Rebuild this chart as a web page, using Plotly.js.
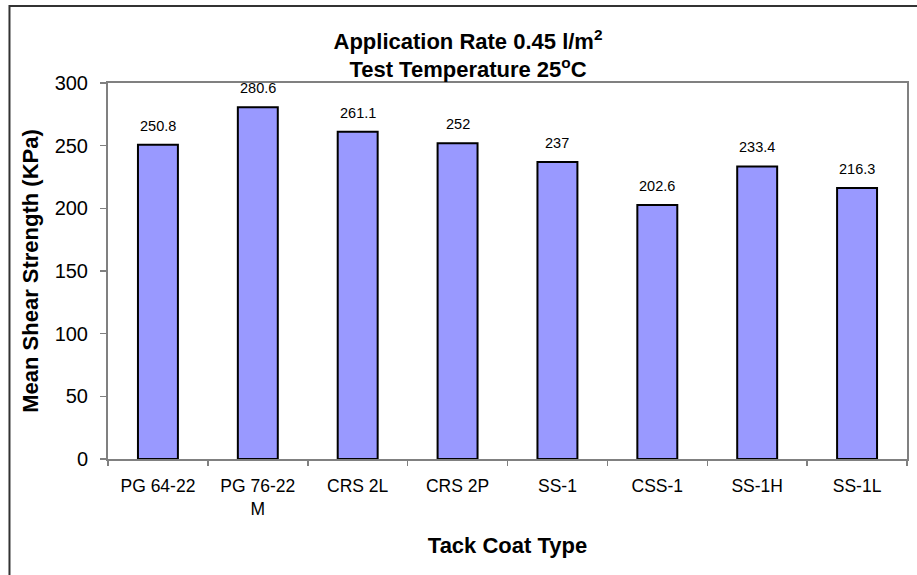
<!DOCTYPE html>
<html>
<head>
<meta charset="utf-8">
<script src="https://cdn.plot.ly/plotly-3.0.1.min.js"></script>
<style>
  html, body { margin: 0; padding: 0; background: #ffffff; }
  #chart { width: 917px; height: 575px; }
</style>
</head>
<body>
<div id="chart"></div>
<script>
// ---- data ----
const categories = ["PG 64-22", "PG 76-22<br>M", "CRS 2L", "CRS 2P", "SS-1", "CSS-1", "SS-1H", "SS-1L"];
const shearStrength = [250.8, 280.6, 261.1, 252, 237, 202.6, 233.4, 216.3];
const valueLabels = ["250.8", "280.6", "261.1", "252", "237", "202.6", "233.4", "216.3"];
const yTickValues = [0, 50, 100, 150, 200, 250, 300];
const chartTitle = "Application Rate 0.45 l/m<sup>2</sup><br>Test Temperature 25<sup>o</sup>C";
const xTitle = "Tack Coat Type";
const yTitle = "Mean Shear Strength (KPa)";

const FONT = "Arial, 'Liberation Sans', sans-serif";

const trace = {
  type: "bar",
  x: categories,
  y: shearStrength,
  marker: { color: "#9999FF", line: { color: "#000000", width: 2 } },
  hoverinfo: "x+y",
  cliponaxis: false
};

const annotations = categories.map((c, i) => ({
  x: c,
  y: shearStrength[i],
  xref: "x",
  yref: "y",
  text: valueLabels[i],
  showarrow: false,
  yanchor: "bottom",
  yshift: 9,
  font: { family: FONT, size: 14.5, color: "#000000" }
}));

const layout = {
  width: 917,
  height: 575,
  paper_bgcolor: "#ffffff",
  plot_bgcolor: "#ffffff",
  margin: { l: 108, r: 10, t: 83, b: 116, pad: 0 },
  showlegend: false,
  bargap: 0.6,
  title: {
    text: "<b>" + chartTitle + "</b>",
    font: { family: FONT, size: 22, color: "#000000" },
    xref: "paper",
    x: 0.4506,
    xanchor: "center",
    yref: "container",
    y: 0.915,
    yanchor: "top"
  },
  xaxis: {
    type: "category",
    showgrid: false,
    zeroline: false,
    showline: true,
    mirror: true,
    linecolor: "#808080",
    linewidth: 2,
    ticks: "outside",
    tickson: "boundaries",
    ticklen: 5,
    tickcolor: "#808080",
    tickwidth: 1.5,
    tickfont: { family: FONT, size: 17.5, color: "#000000" },
    ticklabelstandoff: 10,
    automargin: false,
    title: {
      text: "<b>" + xTitle + "</b>",
      font: { family: FONT, size: 22, color: "#000000" },
      standoff: 20
    }
  },
  yaxis: {
    range: [0, 300],
    tickvals: yTickValues,
    showgrid: false,
    zeroline: false,
    showline: true,
    mirror: true,
    linecolor: "#808080",
    linewidth: 2,
    ticks: "outside",
    ticklen: 6,
    tickcolor: "#808080",
    tickwidth: 1.5,
    tickfont: { family: FONT, size: 20, color: "#000000" },
    ticklabelstandoff: 8,
    automargin: false,
    title: {
      text: "<b>" + yTitle + "</b>",
      font: { family: FONT, size: 22, color: "#000000" },
      standoff: 10
    }
  },
  annotations: annotations,
  shapes: [{
    type: "rect",
    xref: "paper",
    yref: "paper",
    x0: -0.1233,
    x1: 1.03,
    y0: -0.5,
    y1: 1.2048,
    line: { color: "#333333", width: 2 },
    fillcolor: "rgba(0,0,0,0)",
    layer: "below"
  }]
};

Plotly.newPlot("chart", [trace], layout, { displayModeBar: false, staticPlot: true });
</script>
</body>
</html>
